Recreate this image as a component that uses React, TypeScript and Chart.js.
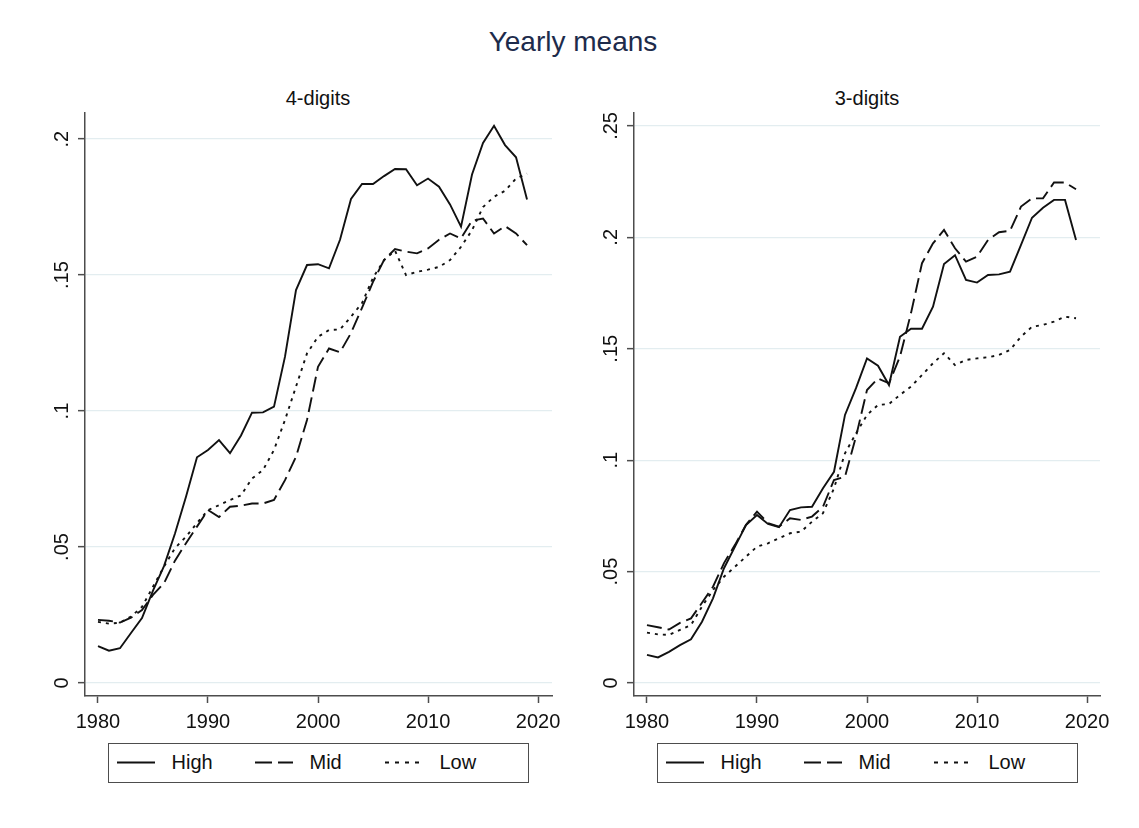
import React, { useEffect, useRef } from "react";
import { Chart, registerables } from "chart.js";

Chart.register(...registerables);

// ---------- data ----------
const years = [
  1980, 1981, 1982, 1983, 1984, 1985, 1986, 1987, 1988, 1989,
  1990, 1991, 1992, 1993, 1994, 1995, 1996, 1997, 1998, 1999,
  2000, 2001, 2002, 2003, 2004, 2005, 2006, 2007, 2008, 2009,
  2010, 2011, 2012, 2013, 2014, 2015, 2016, 2017, 2018, 2019,
];

const seriesNames = ["High", "Mid", "Low"];

const xTickValues = [1980, 1990, 2000, 2010, 2020];
const xTickLabels = ["1980", "1990", "2000", "2010", "2020"];

const yTicks4 = [0, 0.05, 0.1, 0.15, 0.2];
const yTickLabels4 = ["0", ".05", ".1", ".15", ".2"];
const yTicks3 = [0, 0.05, 0.1, 0.15, 0.2, 0.25];
const yTickLabels3 = ["0", ".05", ".1", ".15", ".2", ".25"];

// 4-digits panel
const high4 = [
  0.0136, 0.0119, 0.0128, 0.0184, 0.0239, 0.034, 0.043, 0.055, 0.0685, 0.083,
  0.0857, 0.0893, 0.0845, 0.091, 0.0994, 0.0995, 0.1016, 0.12, 0.1445, 0.1537,
  0.154, 0.1525, 0.163, 0.178, 0.1835, 0.1835, 0.1864, 0.189, 0.1889, 0.183,
  0.1855, 0.1825, 0.176, 0.1678, 0.187, 0.1986, 0.2049, 0.1978, 0.1933, 0.1778,
];
const mid4 = [
  0.0232, 0.0229, 0.0222, 0.024, 0.0268, 0.0324, 0.0367, 0.045, 0.0514, 0.0575,
  0.0636, 0.061, 0.0648, 0.0652, 0.066, 0.066, 0.0673, 0.0746, 0.0832, 0.0967,
  0.1163, 0.123, 0.1216, 0.1287, 0.1379, 0.1475, 0.1555, 0.1596, 0.1586, 0.158,
  0.1598, 0.163, 0.1653, 0.1635, 0.17, 0.1708, 0.1653, 0.168, 0.1653, 0.161,
];
const low4 = [
  0.0225, 0.0218, 0.0222, 0.0244, 0.028, 0.0354, 0.0428, 0.0496, 0.0538, 0.0588,
  0.0636, 0.0654, 0.0673, 0.069, 0.0752, 0.0783, 0.0857, 0.0967, 0.109, 0.1212,
  0.1273, 0.1298, 0.13, 0.1347, 0.1397, 0.149, 0.1555, 0.159, 0.15, 0.1512,
  0.152, 0.153, 0.1555, 0.1604, 0.1665, 0.175, 0.1788, 0.181, 0.1855, 0.1873,
];

// 3-digits panel
const high3 = [
  0.0126, 0.0115, 0.014, 0.017, 0.0196, 0.0275, 0.038, 0.0515, 0.0612, 0.0709,
  0.0754, 0.0714, 0.0699, 0.0776, 0.0788, 0.0791, 0.0874, 0.0948, 0.1203, 0.1323,
  0.1457, 0.1424, 0.1337, 0.1554, 0.159, 0.159, 0.1689, 0.188, 0.192, 0.1809,
  0.1797, 0.1831, 0.1834, 0.1846, 0.1966, 0.2088, 0.2133, 0.2168, 0.2168, 0.1988,
];
const mid3 = [
  0.026, 0.025, 0.024, 0.027, 0.029, 0.036, 0.0432, 0.0538, 0.062, 0.071,
  0.0769, 0.0718, 0.0702, 0.0739, 0.0732, 0.0747, 0.0791, 0.0911, 0.0926, 0.1106,
  0.1315, 0.1367, 0.1345, 0.1465, 0.166, 0.1884, 0.1973, 0.2033, 0.1951, 0.1891,
  0.1913, 0.1988, 0.2023, 0.2029, 0.2138, 0.2175, 0.2175, 0.2246, 0.2246, 0.2216,
];
const low3 = [
  0.0226, 0.0218, 0.0216, 0.0238, 0.026, 0.0343, 0.0417, 0.0477, 0.0522, 0.0567,
  0.0612, 0.0627, 0.065, 0.0672, 0.0679, 0.0724, 0.0762, 0.0874, 0.1031, 0.112,
  0.1203, 0.1248, 0.1252, 0.1293, 0.133, 0.1382, 0.1435, 0.148, 0.1427, 0.145,
  0.1457, 0.1462, 0.1472, 0.1495, 0.1554, 0.1599, 0.1607, 0.1622, 0.1644, 0.1637,
];

// ---------- styles ----------
const FONT = "'Liberation Sans', Arial, sans-serif";
const INK = "#111111";
const AXIS = "#4d4d4d";
const GRID = "#e3edf0";
const chartDashes = [[], [15, 6], [3, 5]];
const legendDashes = ["", "17 6", "4 6"];

type PanelProps = {
  left: number;
  width: number;
  height: number;
  plotLeft: number;
  plotRight: number;
  plotTop: number;
  plotBottom: number;
  xMin: number;
  xMax: number;
  yMin: number;
  yMax: number;
  yTickVals: number[];
  yTickLabels: string[];
  series: number[][];
};

function Panel(p: PanelProps) {
  const ref = useRef<HTMLCanvasElement>(null);
  useEffect(() => {
    const chart = new Chart(ref.current as HTMLCanvasElement, {
      type: "line",
      data: {
        datasets: p.series.map((s, i) => ({
          label: seriesNames[i],
          data: years.map((yr, j) => ({ x: yr, y: s[j] })),
          borderColor: INK,
          borderWidth: 1.9,
          borderDash: chartDashes[i],
          pointRadius: 0,
          tension: 0,
          fill: false,
        })),
      },
      options: {
        responsive: false,
        animation: false,
        devicePixelRatio: 1,
        layout: {
          padding: { left: 0, top: p.plotTop, right: p.width - p.plotRight, bottom: 0 },
        },
        plugins: {
          legend: { display: false },
          tooltip: { enabled: false },
          title: { display: false },
        },
        scales: {
          x: {
            type: "linear",
            min: p.xMin,
            max: p.xMax,
            afterBuildTicks: (s: any) => {
              s.ticks = xTickValues.map((v) => ({ value: v }));
            },
            afterFit: (s: any) => {
              s.height = p.height - p.plotBottom;
            },
            ticks: {
              callback: (_v: any, idx: number) => xTickLabels[idx],
              font: { family: FONT, size: 20 },
              color: INK,
              padding: 7,
              maxRotation: 0,
              minRotation: 0,
              autoSkip: false,
            },
            grid: {
              drawOnChartArea: false,
              drawTicks: true,
              tickLength: 7,
              tickColor: AXIS,
              tickWidth: 1.5,
            },
            border: { color: AXIS, width: 1.5 },
          },
          y: {
            type: "linear",
            min: p.yMin,
            max: p.yMax,
            afterBuildTicks: (s: any) => {
              s.ticks = p.yTickVals.map((v) => ({ value: v }));
            },
            afterFit: (s: any) => {
              s.width = p.plotLeft;
            },
            ticks: {
              callback: (_v: any, idx: number) => p.yTickLabels[idx],
              font: { family: FONT, size: 20 },
              color: INK,
              padding: 2,
              minRotation: 90,
              maxRotation: 90,
              crossAlign: "center",
              autoSkip: false,
            },
            grid: {
              color: GRID,
              lineWidth: 1.3,
              drawTicks: true,
              tickLength: 7,
              tickColor: AXIS,
              tickWidth: 1.5,
            },
            border: { color: AXIS, width: 1.5 },
          },
        },
      } as any,
    });
    return () => chart.destroy();
  }, []);
  return (
    <canvas
      ref={ref}
      width={p.width}
      height={p.height}
      style={{ position: "absolute", left: p.left, top: 0, width: p.width, height: p.height }}
    />
  );
}

function Legend({ left }: { left: number }) {
  const sampleLeft = [7.5, 145.5, 275.5];
  const sampleWidth = [38, 38, 35];
  const textLeft = [62.5, 200.5, 330.5];
  return (
    <div
      style={{
        position: "absolute",
        left,
        top: 743,
        width: 421,
        height: 40,
        border: `1.5px solid ${AXIS}`,
        boxSizing: "border-box",
        background: "#fff",
      }}
    >
      {seriesNames.map((n, i) => (
        <React.Fragment key={n}>
          <svg
            width={sampleWidth[i]}
            height={37}
            style={{ position: "absolute", left: sampleLeft[i], top: 0 }}
          >
            <line
              x1={0}
              y1={18.5}
              x2={sampleWidth[i]}
              y2={18.5}
              stroke={INK}
              strokeWidth={1.8}
              strokeDasharray={legendDashes[i] || undefined}
            />
          </svg>
          <span
            style={{
              position: "absolute",
              left: textLeft[i],
              top: 0,
              lineHeight: "37px",
              fontSize: 20,
              fontFamily: FONT,
              color: INK,
              whiteSpace: "nowrap",
            }}
          >
            {n}
          </span>
        </React.Fragment>
      ))}
    </div>
  );
}

export default function App() {
  return (
    <div
      style={{
        position: "fixed",
        left: 0,
        top: 0,
        width: 1139,
        height: 828,
        background: "#ffffff",
        overflow: "hidden",
        fontFamily: FONT,
      }}
    >
      <div
        style={{
          position: "absolute",
          left: 273,
          width: 600,
          top: 25,
          lineHeight: "34px",
          fontSize: 28,
          textAlign: "center",
          color: "#1d2b4b",
        }}
      >
        Yearly means
      </div>
      <div
        style={{
          position: "absolute",
          left: 218,
          width: 200,
          top: 86,
          lineHeight: "24px",
          fontSize: 20,
          textAlign: "center",
          color: INK,
        }}
      >
        4-digits
      </div>
      <div
        style={{
          position: "absolute",
          left: 767,
          width: 200,
          top: 86,
          lineHeight: "24px",
          fontSize: 20,
          textAlign: "center",
          color: INK,
        }}
      >
        3-digits
      </div>

      <Panel
        left={0}
        width={575}
        height={740}
        plotLeft={85}
        plotRight={552}
        plotTop={113}
        plotBottom={696}
        xMin={1978.82}
        xMax={2021.27}
        yMin={-0.00478}
        yMax={0.2096}
        yTickVals={yTicks4}
        yTickLabels={yTickLabels4}
        series={[high4, mid4, low4]}
      />
      <Panel
        left={575}
        width={564}
        height={740}
        plotLeft={59}
        plotRight={525}
        plotTop={113}
        plotBottom={696}
        xMin={1978.82}
        xMax={2021.18}
        yMin={-0.00583}
        yMax={0.2558}
        yTickVals={yTicks3}
        yTickLabels={yTickLabels3}
        series={[high3, mid3, low3]}
      />

      <Legend left={108} />
      <Legend left={657} />
    </div>
  );
}
